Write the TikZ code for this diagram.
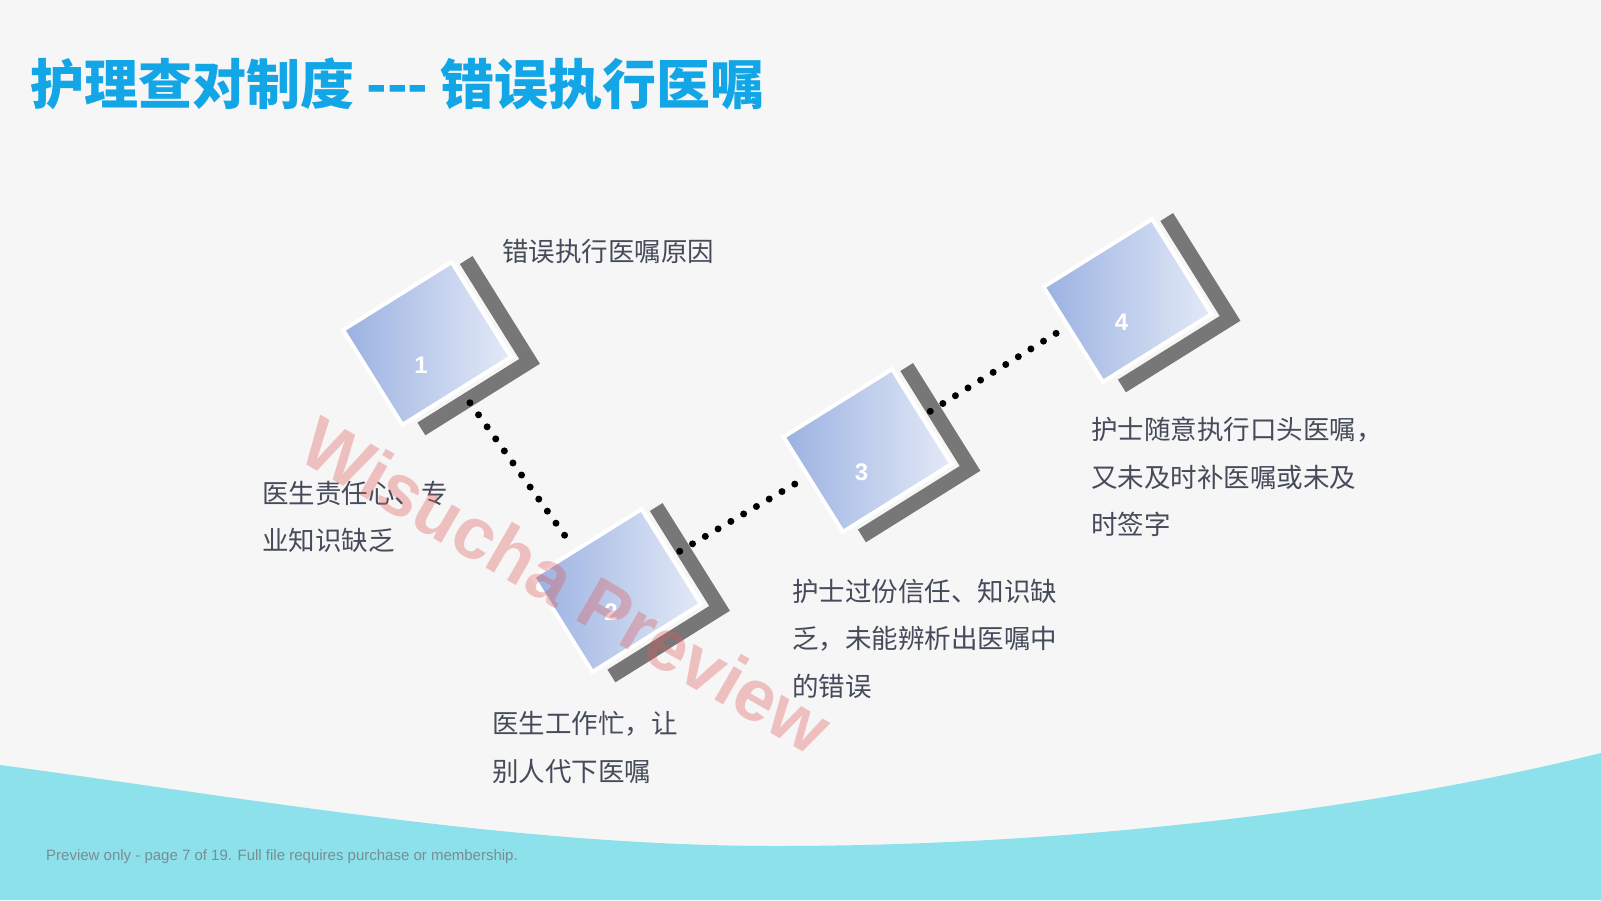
\documentclass[tikz,border=0pt]{standalone}
\usepackage{fontspec}
\setmainfont{Liberation Sans}
\newfontfamily\cjk{Noto Sans CJK SC}
\definecolor{bgc}{HTML}{F6F6F6}
\definecolor{wavec}{HTML}{8CE1EB}
\definecolor{titlec}{HTML}{12A6E6}
\definecolor{txtc}{HTML}{454B5A}
\definecolor{grayc}{HTML}{777777}
\definecolor{bluedark}{HTML}{9BB1E1}
\definecolor{bluelight}{HTML}{E3EAF7}
\definecolor{footc}{HTML}{7A8C94}
\definecolor{wmc}{HTML}{E05A5A}
\tikzset{
  sqbox/.style={rectangle, minimum width=128pt, minimum height=112pt, inner sep=0pt,
    draw=white, line width=4pt, left color=bluedark, right color=bluelight},
  graybar/.style={fill=grayc},
  numtxt/.style={font=\bfseries\fontsize{24}{24}\selectfont, text=white, inner sep=0pt},
  dotline/.style={line width=7pt, line cap=round, dash pattern=on 0pt off 14.8pt, black},
  txt/.style={font=\cjk\fontsize{26.5}{47.8}\selectfont, text=txtc, align=left, anchor=north west, inner sep=0pt},
}
\newcommand\mysq[4]{%
  \begin{scope}[shift={(#2,#3)}, rotate=32]
    \fill[graybar] (70,-50) -- (85,-50) -- (85,77) -- (-50,77) -- (-50,62) -- (70,62) -- cycle;
    \node[sqbox, transform shape] (#1) at (0,0) {};
    \coordinate (#1-r) at (74,0);
    \coordinate (#1-l) at (-77,-10);
    \coordinate (#1-b) at (5,73);
    \coordinate (#1-t) at (-15,-72);
  \end{scope}
  \node[numtxt] (#1-n) at ({#2-6},{#3+22}) {#4};
}
\begin{document}
\begin{tikzpicture}[x=1pt,y=-1pt]
\useasboundingbox (0,0) rectangle (1601,900);
\fill[bgc] (0,0) rectangle (1601,900);
\fill[wavec] (0,765) .. controls (260,800) and (520,846) .. (776,846)
  .. controls (1050,846) and (1350,815) .. (1601,753) -- (1601,900) -- (0,900) -- cycle;

\node[font=\cjk\bfseries\fontsize{54}{60}\selectfont, text=titlec, anchor=west, inner sep=0pt] (title) at (30,84) {护理查对制度 --- 错误执行医嘱};

\mysq{s1}{427}{343.5}{1}
\mysq{s2}{617}{590.5}{2}
\mysq{s3}{867.5}{450.5}{3}
\mysq{s4}{1127.5}{300.5}{4}

\draw[dotline] (s1-b) -- (s2-t);
\draw[dotline] (s2-r) -- (s3-l);
\draw[dotline] (s3-r) -- (s4-l);

\node[txt] (t0) at (502,239.5) {错误执行医嘱原因};
\node[txt] (t1) at (262,480.5) {医生责任心、专\\业知识缺乏};
\node[txt] (t2) at (492,711.5) {医生工作忙，让\\别人代下医嘱};
\node[txt] (t3) at (792,578.5) {护士过份信任、知识缺\\乏，未能辨析出医嘱中\\的错误};
\node[txt] (t4) at (1091,416.5) {护士随意执行口头医嘱，\\又未及时补医嘱或未及\\时签字};

\node[font=\fontsize{15}{17}\selectfont, text=footc, anchor=west, inner sep=0pt] (foot) at (46,857) {Preview only - page 7 of 19. Full file requires purchase or membership.};

\node[font=\bfseries\fontsize{73}{80}\selectfont, text=wmc, text opacity=0.35, rotate=-30, inner sep=0pt] (wm) at (567,585) {Wisucha Preview};
\end{tikzpicture}
\end{document}
